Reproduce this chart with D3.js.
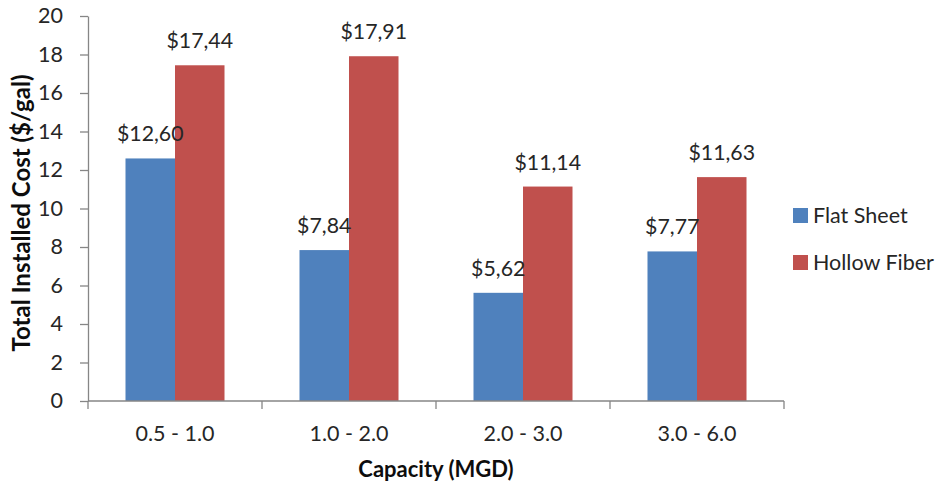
<!DOCTYPE html>
<html>
<head>
<meta charset="utf-8">
<script src="https://cdn.jsdelivr.net/npm/d3@7"></script>
<style>
  html, body { margin: 0; padding: 0; background: #fff; }
  svg { display: block; }
  text { font-family: Lato, "Open Sans", sans-serif; }
</style>
</head>
<body>
<svg id="chart" width="939" height="483"></svg>
<script>
// Capacity ranges and installed cost per gallon for each membrane type
const categories = ["0.5 - 1.0", "1.0 - 2.0", "2.0 - 3.0", "3.0 - 6.0"];
const seriesNames = ["Flat Sheet", "Hollow Fiber"];
const flatSheet = [12.60, 7.84, 5.62, 7.77];
const hollowFiber = [17.44, 17.91, 11.14, 11.63];
const yTicks = [0, 2, 4, 6, 8, 10, 12, 14, 16, 18, 20];
const colors = ["#4F81BD", "#C0504D"];

const svg = d3.select("#chart");
const margin = { left: 88, right: 155, top: 16, bottom: 82 };
const width = 939, height = 483;
const textColor = "#262626";

const x0 = d3.scaleBand()
  .domain(categories)
  .range([margin.left, width - margin.right])
  .paddingInner(0.431)
  .paddingOuter(0.2155);
const x1 = d3.scaleBand()
  .domain(seriesNames)
  .range([0, x0.bandwidth()]);
const y = d3.scaleLinear()
  .domain([0, 20])
  .range([height - margin.bottom, margin.top]);

const series = [flatSheet, hollowFiber];
const fmt = v => "$" + v.toFixed(2).replace(".", ",");

// Bars
series.forEach((vals, si) => {
  svg.append("g")
    .selectAll("rect")
    .data(vals)
    .join("rect")
    .attr("x", (d, i) => x0(categories[i]) + x1(seriesNames[si]))
    .attr("y", d => y(d))
    .attr("width", x1.bandwidth())
    .attr("height", d => y(0) - y(d))
    .attr("fill", colors[si]);
});

// Value labels above each bar
series.forEach((vals, si) => {
  svg.append("g")
    .selectAll("text")
    .data(vals)
    .join("text")
    .attr("x", (d, i) => x0(categories[i]) + x1(seriesNames[si]) + x1.bandwidth() / 2)
    .attr("y", d => y(d) - 17)
    .attr("text-anchor", "middle")
    .attr("font-size", 21.3)
    .attr("fill", textColor)
    .text(fmt);
});

// Y axis
const yAxis = svg.append("g")
  .attr("transform", `translate(${margin.left},0)`)
  .call(d3.axisLeft(y).tickValues(yTicks).tickSize(8).tickSizeOuter(0).tickPadding(17));
yAxis.select(".domain").attr("stroke", "#868686").attr("stroke-width", 1.3);
yAxis.selectAll(".tick line").attr("stroke", "#868686").attr("stroke-width", 1.3);
yAxis.selectAll(".tick text").attr("font-size", 21.5).attr("fill", textColor)
  .attr("font-family", "Lato, sans-serif");

// X axis with boundary ticks between categories
const xAxisG = svg.append("g").attr("transform", `translate(0,${y(0)})`);
xAxisG.append("line")
  .attr("x1", margin.left).attr("x2", width - margin.right)
  .attr("stroke", "#868686").attr("stroke-width", 1.3);
const step = x0.step();
const bounds = d3.range(categories.length + 1).map(i => margin.left + i * step);
xAxisG.selectAll("line.bt")
  .data(bounds)
  .join("line")
  .attr("class", "bt")
  .attr("x1", d => d).attr("x2", d => d)
  .attr("y1", 0).attr("y2", 8)
  .attr("stroke", "#868686").attr("stroke-width", 1.3);
xAxisG.selectAll("text.cat")
  .data(categories)
  .join("text")
  .attr("class", "cat")
  .attr("x", d => x0(d) + x0.bandwidth() / 2)
  .attr("y", 40)
  .attr("text-anchor", "middle")
  .attr("font-size", 21.5)
  .attr("fill", textColor)
  .text(d => d);

// Axis titles
svg.append("text")
  .attr("x", 436)
  .attr("y", 477)
  .attr("text-anchor", "middle")
  .attr("font-size", 22)
  .attr("font-weight", "bold")
  .attr("fill", "#0d0d0d")
  .text("Capacity (MGD)");
svg.append("text")
  .attr("transform", `translate(30,213) rotate(-90)`)
  .attr("text-anchor", "middle")
  .attr("font-size", 24)
  .attr("font-weight", "bold")
  .attr("fill", "#0d0d0d")
  .text("Total Installed Cost ($/gal)");

// Legend
const legend = svg.append("g").attr("transform", "translate(793,208)");
seriesNames.forEach((name, i) => {
  const g = legend.append("g").attr("transform", `translate(0,${i * 47})`);
  g.append("rect").attr("width", 15).attr("height", 15).attr("fill", colors[i]);
  g.append("text").attr("x", 20).attr("y", 15)
    .attr("font-size", 21.5).attr("fill", textColor).text(name);
});
</script>
</body>
</html>
